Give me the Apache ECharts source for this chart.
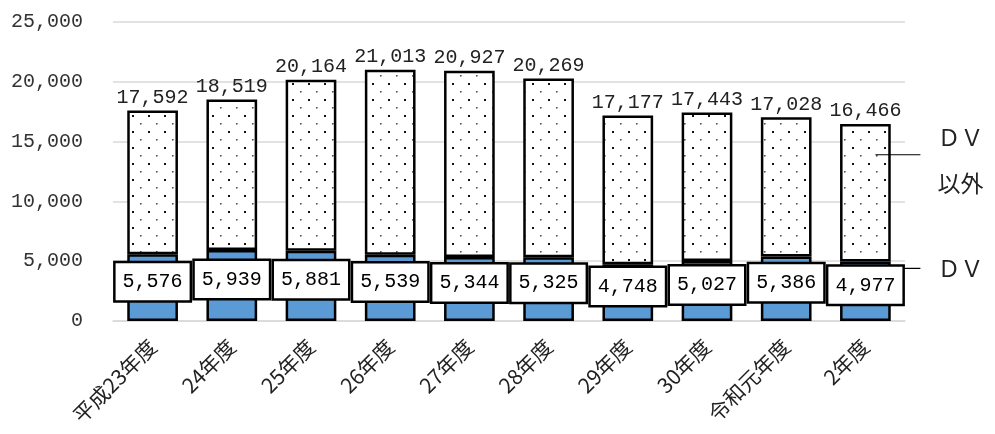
<!DOCTYPE html>
<html>
<head>
<meta charset="utf-8">
<script src="https://cdn.jsdelivr.net/npm/echarts@6/dist/echarts.min.js"></script>
<style>
  html, body { margin: 0; padding: 0; background: #fff; }
  #main { width: 995px; height: 434px; }
</style>
</head>
<body>
<div id="main"></div>
<script>
var years = ['平成23年度', '24年度', '25年度', '26年度', '27年度', '28年度', '29年度', '30年度', '令和元年度', '2年度'];
var totals = [17592, 18519, 20164, 21013, 20927, 20269, 17177, 17443, 17028, 16466];
var dvCounts = [5576, 5939, 5881, 5539, 5344, 5325, 4748, 5027, 5386, 4977];
var otherCounts = [12016, 12580, 14283, 15474, 15583, 14944, 12429, 12416, 11642, 11489];

var monoFont = '"Liberation Mono", "DejaVu Sans Mono", monospace';
var cjkFont = '"Noto Sans CJK JP", "Noto Sans", sans-serif';

// dotted fill like the excel pattern
function dotPattern() {
    var c = document.createElement('canvas');
    c.width = 16;
    c.height = 16;
    var ctx = c.getContext('2d');
    ctx.fillStyle = '#fff';
    ctx.fillRect(0, 0, 16, 16);
    ctx.fillStyle = '#111';
    ctx.fillRect(4, 3, 2, 2);
    ctx.fillStyle = '#555';
    ctx.fillRect(12, 11, 1.6, 1.6);
    return c;
}

var dom = document.getElementById('main');
var myChart = echarts.init(dom);
var option = {
    animation: false,
    grid: { left: 113, right: 90, top: 22, bottom: 113 },
    xAxis: {
        type: 'category',
        data: years,
        axisTick: { show: false },
        axisLine: { lineStyle: { color: '#d9d9d9', width: 1.5 } },
        axisLabel: {
            rotate: 45,
            interval: 0,
            margin: 22,
            fontFamily: cjkFont,
            fontSize: 21,
            color: '#222'
        }
    },
    yAxis: {
        type: 'value',
        min: 0,
        max: 25000,
        interval: 5000,
        axisLine: { show: false },
        axisTick: { show: false },
        splitLine: { lineStyle: { color: '#d9d9d9', width: 1.5 } },
        axisLabel: {
            margin: 30,
            fontFamily: monoFont,
            fontSize: 20,
            color: '#333',
            formatter: function (v) { return v.toLocaleString('en-US'); }
        }
    },
    series: [
        {
            name: 'ＤＶ',
            type: 'bar',
            stack: 'all',
            barWidth: '64%',
            data: dvCounts,
            itemStyle: { color: '#5b9bd5', borderColor: '#000', borderWidth: 2.5 },
            label: {
                show: true,
                position: 'inside',
                offset: [0, -6],
                fontFamily: monoFont,
                fontSize: 20,
                color: '#000',
                backgroundColor: '#fff',
                borderColor: '#000',
                borderWidth: 2.5,
                padding: [9, 7, 8, 7],
                formatter: function (p) { return p.value.toLocaleString('en-US'); }
            }
        },
        {
            name: 'ＤＶ以外',
            type: 'bar',
            stack: 'all',
            data: otherCounts,
            itemStyle: { color: { image: dotPattern(), repeat: 'repeat' }, borderColor: '#000', borderWidth: 2.5 },
            label: {
                show: true,
                position: 'top',
                distance: 3,
                fontFamily: monoFont,
                fontSize: 20,
                color: '#222',
                formatter: function (p) { return totals[p.dataIndex].toLocaleString('en-US'); }
            }
        }
    ]
};
myChart.setOption(option);

// series names on the right, like excel
var last = years[years.length - 1];
var pTop = myChart.convertToPixel({ gridIndex: 0 }, [last, 13900]);
var pDv = myChart.convertToPixel({ gridIndex: 0 }, [last, 4400]);
myChart.setOption({
    graphic: [
        { type: 'line', z: 100, shape: { x1: pTop[0] + 10, y1: pTop[1], x2: pTop[0] + 55, y2: pTop[1] }, style: { stroke: '#000', lineWidth: 1.2 } },
        { type: 'line', z: 100, shape: { x1: pDv[0] + 38, y1: pDv[1], x2: pDv[0] + 55, y2: pDv[1] }, style: { stroke: '#000', lineWidth: 1.2 } },
        { type: 'text', z: 100, left: pTop[0] + 72, top: pTop[1] - 40, style: { text: 'ＤＶ\n以外', font: '23px ' + cjkFont, fill: '#222', lineHeight: 46 } },
        { type: 'text', z: 100, left: pDv[0] + 72, top: pDv[1] - 12, style: { text: 'ＤＶ', font: '23px ' + cjkFont, fill: '#222' } }
    ]
});
</script>
</body>
</html>
